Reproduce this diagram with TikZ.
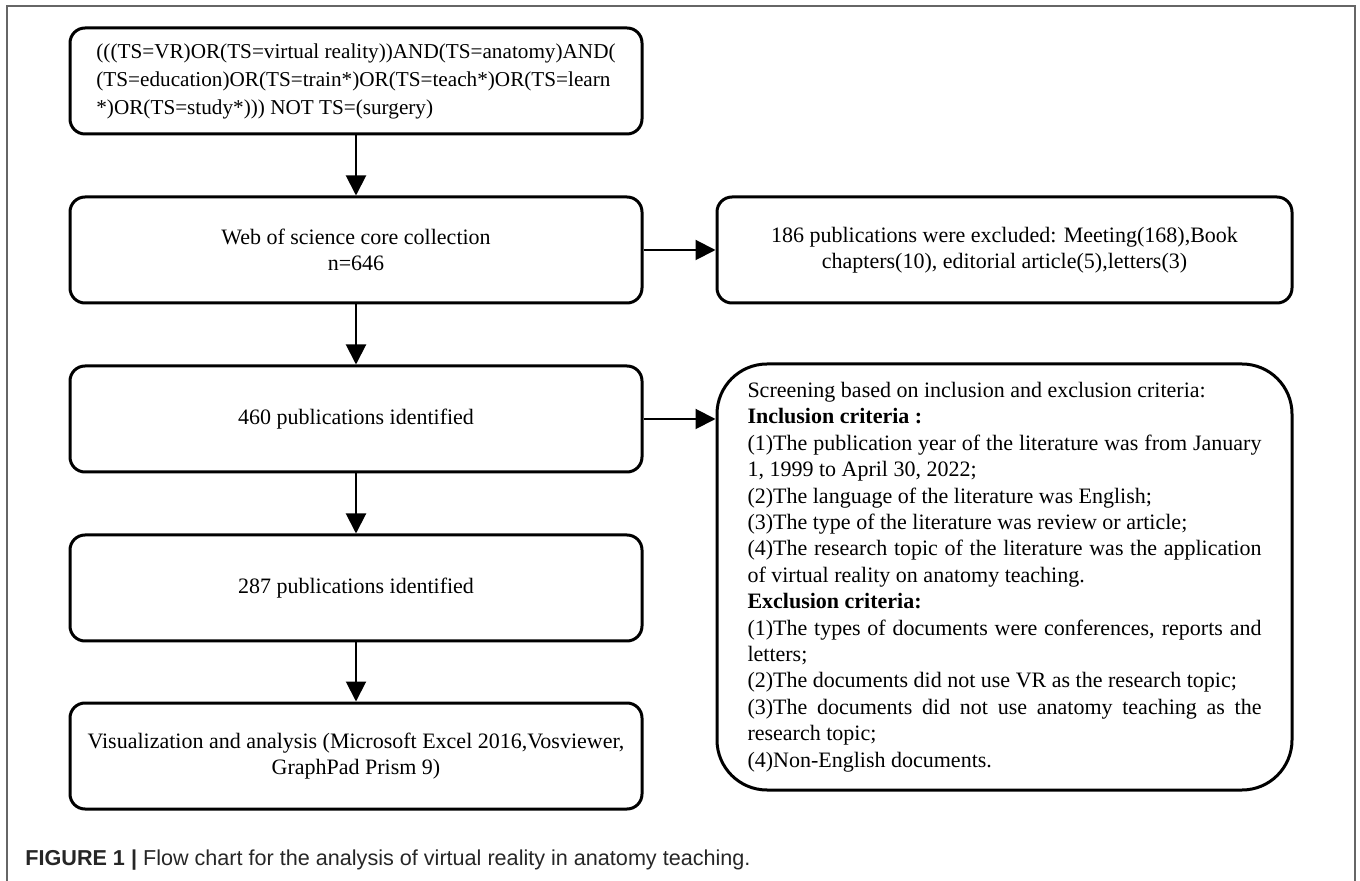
\documentclass[tikz,border=0pt]{standalone}
\usepackage{fontspec}
\setmainfont{Liberation Serif}
\newfontfamily\capfont{Liberation Sans}
\usetikzlibrary{arrows.meta,calc}
\hyphenpenalty=10000

\tikzset{
  box/.style={draw, line width=1.5pt, rounded corners=7.5pt, minimum width=286pt,
    minimum height=53pt, align=center, font=\fontsize{11}{13.2}\selectfont},
  flow/.style={-{Triangle[length=10pt,width=10pt]}, line width=1pt},
  frame/.style={draw=black!60, line width=1pt},
}

\begin{document}
\begin{tikzpicture}[x=0.5pt, y=-0.5pt]
  \useasboundingbox (0,0) rectangle (1360,881);
  \draw[frame] (7,881) |- (1355,6) -- (1355,881);
  % left column
  \node[box, align=left, font=\fontsize{10.6}{14}\selectfont] (query) at (356,81)
    {(((TS=VR)OR(TS=virtual reality))AND(TS=anatomy)AND(\\
     (TS=education)OR(TS=train*)OR(TS=teach*)OR(TS=learn\\
     *)OR(TS=study*))) NOT TS=(surgery)};
  \node[box] (wos) at (356,250) {Web of science core collection\\n=646};
  \node[box] (n460) at (356,419) {460 publications identified};
  \node[box] (n287) at (356,588) {287 publications identified};
  \node[box] (vis) at (356,756)
    {Visualization and analysis (Microsoft Excel 2016,Vosviewer,\\GraphPad Prism 9)};
  % right column
  \node[box, minimum width=287.5pt] (excl) at (1004.5,250)
    {186 publications were excluded: Meeting(168),Book\\chapters(10), editorial article(5),letters(3)};
  \node[box, rounded corners=25pt, minimum width=287.5pt, minimum height=213pt,
    text width=257pt, align=justify] (crit) at (1004.5,577)
    {Screening based on inclusion and exclusion criteria:\\
     \textbf{Inclusion criteria :}\\
     (1)The publication year of the literature was from January\linebreak 1, 1999 to April 30, 2022;\\
     (2)The language of the literature was English;\\
     (3)The type of the literature was review or article;\\
     (4)The research topic of the literature was the application\linebreak of virtual reality on anatomy teaching.\\
     \textbf{Exclusion criteria:}\\
     (1)The types of documents were conferences, reports and\linebreak letters;\\
     (2)The documents did not use VR as the research topic;\\
     (3)The documents did not use anatomy teaching as the\linebreak research topic;\\
     (4)Non-English documents.};
  % connectors
  \draw[flow] (query) -- (wos);
  \draw[flow] (wos) -- (n460);
  \draw[flow] (n460) -- (n287);
  \draw[flow] (n287) -- (vis);
  \draw[flow] (wos) -- (excl);
  \draw[flow] (n460.east) -- (n460.east -| crit.west);
  % caption
  \node[anchor=west, inner sep=0pt, text=black!85, font=\capfont\fontsize{10.8}{13}\selectfont]
    (cap) at (25,860) {\textbf{FIGURE 1 |} Flow chart for the analysis of virtual reality in anatomy teaching.};
\end{tikzpicture}
\end{document}
